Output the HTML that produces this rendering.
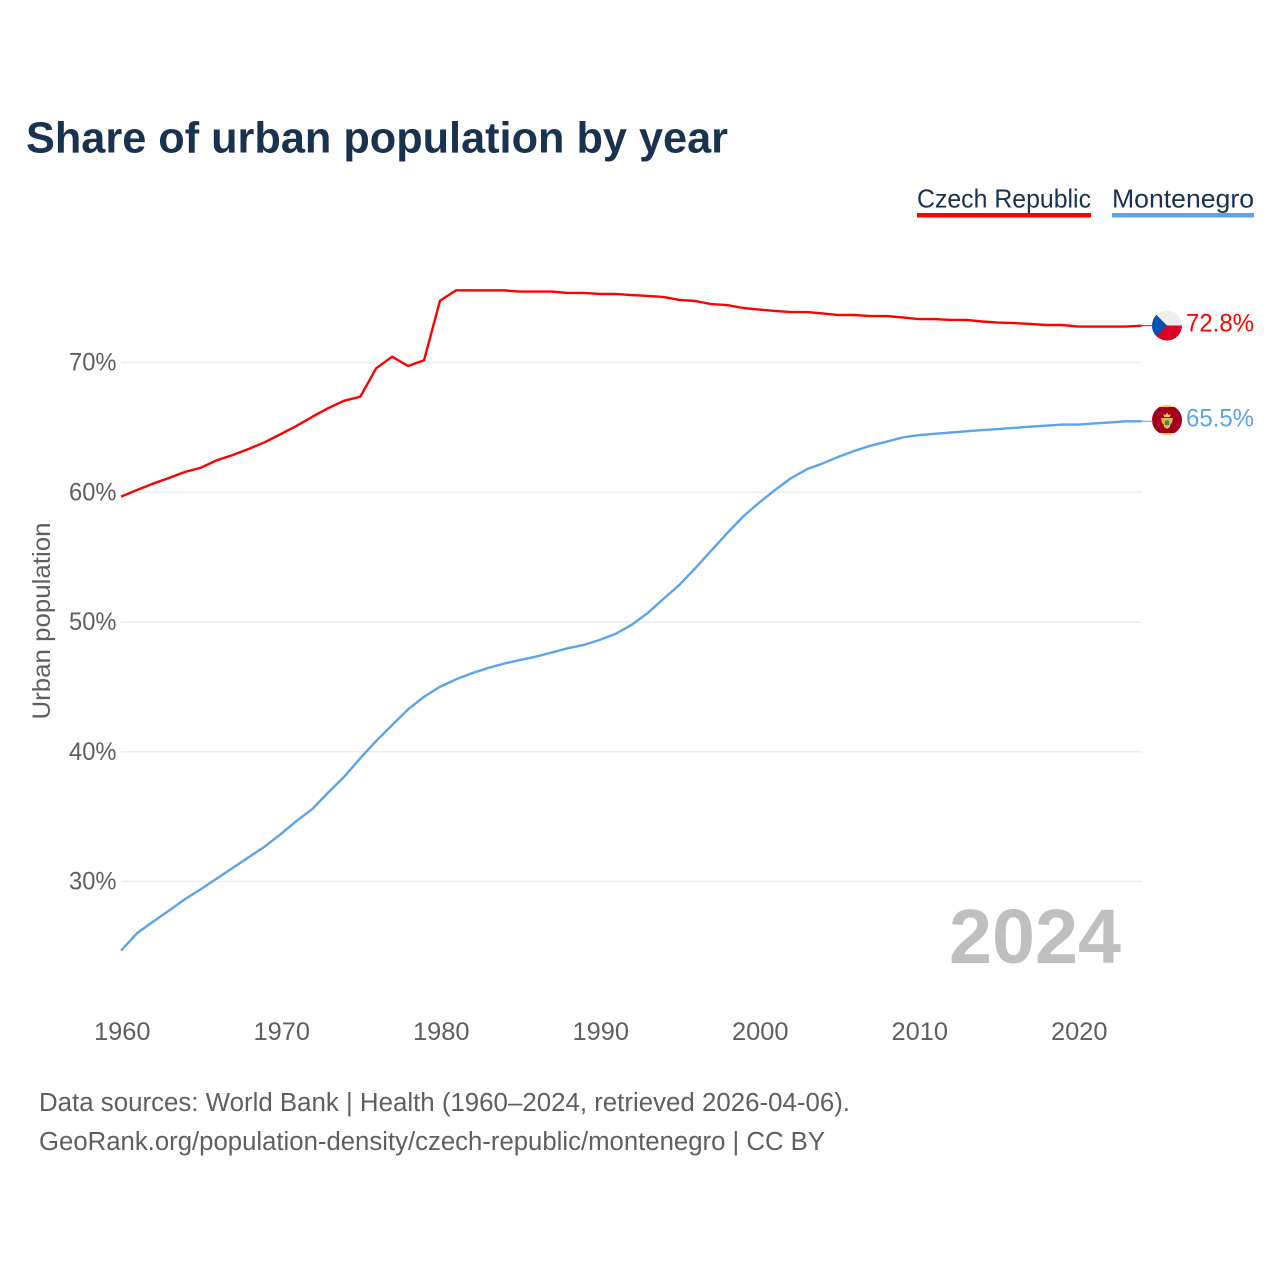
<!DOCTYPE html>
<html lang="en">
<head>
<meta charset="utf-8">
<title>Share of urban population by year</title>
<style>
html,body{margin:0;padding:0;background:#fff;width:1280px;height:1280px;overflow:hidden}
svg{display:block}
text{font-family:"Liberation Sans",sans-serif}
</style>
</head>
<body>
<svg id="chart" xmlns="http://www.w3.org/2000/svg" width="1280" height="1280" viewBox="0 0 1280 1280">
  <rect width="1280" height="1280" fill="#ffffff"/>
  <text x="26" y="152.5" font-size="44" font-weight="700" fill="#18324f" textLength="702" lengthAdjust="spacingAndGlyphs">Share of urban population by year</text>

  <g>
    <text x="917" y="207.5" font-size="26" fill="#18324f" textLength="174" lengthAdjust="spacingAndGlyphs">Czech Republic</text>
    <rect x="917" y="213" width="174" height="4.5" fill="#ff0000"/>
  </g>
  <g>
    <text x="1112" y="207.5" font-size="26" fill="#18324f" textLength="142" lengthAdjust="spacingAndGlyphs">Montenegro</text>
    <rect x="1112" y="213" width="142" height="4.5" fill="#5ba4eb"/>
  </g>

  <g id="grid"></g>
  <g id="yticks"></g>
  <g id="xticks"></g>

  <text transform="translate(50,621) rotate(-90)" text-anchor="middle" font-size="25" fill="#5f5f5f" textLength="197" lengthAdjust="spacingAndGlyphs">Urban population</text>

  <text x="949" y="963" font-size="77" font-weight="700" fill="#bfbfbf" textLength="172" lengthAdjust="spacingAndGlyphs">2024</text>

  <g id="series"></g>

  <defs>
    <clipPath id="cz-clip"><circle cx="1167" cy="325.5" r="15"/></clipPath>
    <clipPath id="me-clip"><circle cx="1167" cy="420" r="15"/></clipPath>
  </defs>
  <g clip-path="url(#cz-clip)">
    <rect x="1152" y="310.5" width="30" height="15" fill="#eeeeee"/>
    <rect x="1152" y="325.5" width="30" height="15" fill="#d80027"/>
    <polygon points="1152,310.5 1167,325.5 1152,340.5" fill="#0052b4"/>
  </g>
  <g clip-path="url(#me-clip)">
    <rect x="1152" y="405" width="30" height="30" fill="#ffc83d"/>
    <rect x="1152" y="407" width="30" height="26" fill="#a2001d"/>
    <polygon points="1164,417 1163.5,414 1165.5,415 1167,412.5 1168.5,415 1170.5,414 1170,417" fill="#f5c542"/>
    <polygon points="1161,418 1173,418 1172,423 1170.5,424 1170,427 1167,429 1164,427 1163.5,424 1162,423" fill="#e6b53a"/>
    <rect x="1165" y="420.5" width="4" height="4.5" fill="#2f7f7e"/>
  </g>

  <g id="endlabels"></g>

  <text x="39" y="1111" font-size="25.5" fill="#5f5f5f" textLength="811" lengthAdjust="spacingAndGlyphs">Data sources: World Bank | Health (1960–2024, retrieved 2026-04-06).</text>
  <text x="39" y="1150" font-size="25.5" fill="#5f5f5f" textLength="786" lengthAdjust="spacingAndGlyphs">GeoRank.org/population-density/czech-republic/montenegro | CC BY</text>
</svg>
<script>
const years = [1960,1961,1962,1963,1964,1965,1966,1967,1968,1969,1970,1971,1972,1973,1974,1975,1976,1977,1978,1979,1980,1981,1982,1983,1984,1985,1986,1987,1988,1989,1990,1991,1992,1993,1994,1995,1996,1997,1998,1999,2000,2001,2002,2003,2004,2005,2006,2007,2008,2009,2010,2011,2012,2013,2014,2015,2016,2017,2018,2019,2020,2021,2022,2023,2024];
const czechValues = [59.66,60.17,60.66,61.10,61.56,61.89,62.46,62.87,63.33,63.85,64.47,65.11,65.82,66.49,67.06,67.36,69.55,70.45,69.73,70.17,74.76,75.56,75.56,75.56,75.56,75.47,75.47,75.47,75.36,75.36,75.28,75.28,75.20,75.13,75.05,74.82,74.74,74.50,74.43,74.20,74.08,73.97,73.89,73.89,73.78,73.66,73.66,73.58,73.58,73.47,73.35,73.35,73.28,73.28,73.16,73.08,73.04,72.97,72.89,72.89,72.77,72.77,72.77,72.77,72.84];
const montenegroValues = [24.67,26.01,26.90,27.75,28.63,29.40,30.22,31.04,31.87,32.68,33.64,34.66,35.59,36.87,38.08,39.50,40.83,42.06,43.27,44.24,45.01,45.58,46.05,46.45,46.79,47.07,47.33,47.65,47.97,48.23,48.61,49.08,49.77,50.67,51.77,52.85,54.14,55.50,56.84,58.12,59.19,60.17,61.08,61.77,62.23,62.74,63.20,63.59,63.90,64.22,64.40,64.50,64.60,64.70,64.79,64.87,64.97,65.05,65.13,65.22,65.22,65.30,65.38,65.47,65.47];
const yTickValues = [30,40,50,60,70];
const yTickLabels = ["30%","40%","50%","60%","70%"];
const xTickValues = [1960,1970,1980,1990,2000,2010,2020];
const xTickLabels = ["1960","1970","1980","1990","2000","2010","2020"];
const endValueLabels = ["72.8%","65.5%"];

const NS = "http://www.w3.org/2000/svg";
const RED = "#ff0000";
const BLUE = "#5ba4eb";
function xScale(year){ return 121 + (year - 1960) * 15.95; }
function yScale(value){ return 362.5 - (value - 70) * 12.975; }
function make(tag, parent, attrs, content){
  const el = document.createElementNS(NS, tag);
  Object.keys(attrs).forEach(function(k){ el.setAttribute(k, attrs[k]); });
  if (content !== undefined) el.textContent = content;
  parent.appendChild(el);
  return el;
}
function linePath(values){
  return values.map(function(v, i){
    return (i ? "L" : "M") + xScale(years[i]).toFixed(2) + " " + yScale(v).toFixed(2);
  }).join(" ");
}

const gridGroup = document.getElementById("grid");
const yGroup = document.getElementById("yticks");
const xGroup = document.getElementById("xticks");
const seriesGroup = document.getElementById("series");
const endGroup = document.getElementById("endlabels");

yTickValues.forEach(function(v, i){
  const g = make("line", gridGroup, {x1: xScale(1960), x2: xScale(2024), y1: yScale(v), y2: yScale(v), stroke: "#eeeeee", "stroke-width": 1.5});
  
  
  const t = make("text", yGroup, {x: 69, y: yScale(v) + 8, "font-size": 25, fill: "#5f5f5f", textLength: 47.5, lengthAdjust: "spacingAndGlyphs"}, yTickLabels[i]);
  
  
});
xTickValues.forEach(function(v, i){
  const t = make("text", xGroup, {x: xScale(v) - 27, y: 1040, "font-size": 25, fill: "#5f5f5f", textLength: 56.5, lengthAdjust: "spacingAndGlyphs"}, xTickLabels[i]);
  
  
});

const czechLine = make("path", seriesGroup, {d: linePath(czechValues), fill: "none", stroke: RED, "stroke-width": 2.4, "stroke-linejoin": "round"});


const montenegroLine = make("path", seriesGroup, {d: linePath(montenegroValues), fill: "none", stroke: BLUE, "stroke-width": 2.4, "stroke-linejoin": "round"});



const lastCz = czechValues[czechValues.length - 1];
const lastMe = montenegroValues[montenegroValues.length - 1];
const czConn = make("line", endGroup, {x1: xScale(2024), x2: 1153, y1: yScale(lastCz), y2: yScale(lastCz), stroke: RED, "stroke-width": 1});


const meConn = make("line", endGroup, {x1: xScale(2024), x2: 1153, y1: yScale(lastMe), y2: yScale(lastMe), stroke: BLUE, "stroke-width": 1});


const czLabel = make("text", endGroup, {x: 1186, y: 331.5, "font-size": 25, fill: RED, textLength: 68, lengthAdjust: "spacingAndGlyphs"}, endValueLabels[0]);


const meLabel = make("text", endGroup, {x: 1186, y: 426.5, "font-size": 25, fill: BLUE, textLength: 68, lengthAdjust: "spacingAndGlyphs"}, endValueLabels[1]);


</script>
</body>
</html>
